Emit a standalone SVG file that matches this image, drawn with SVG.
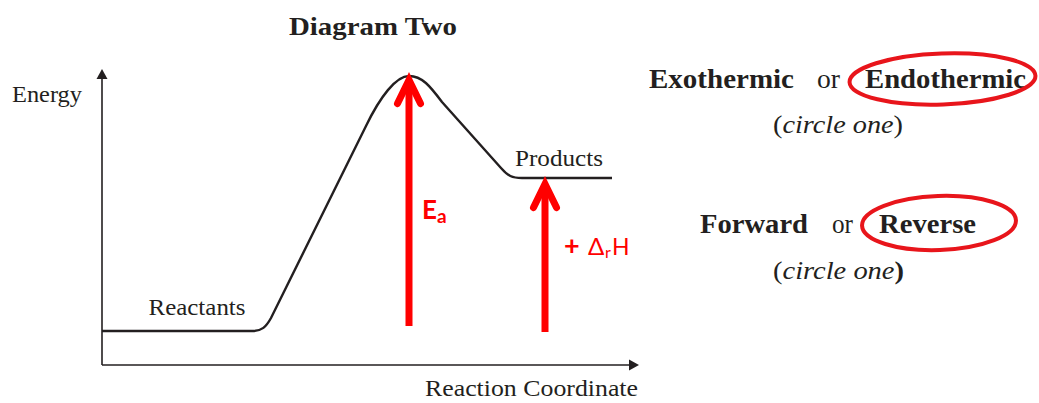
<svg xmlns="http://www.w3.org/2000/svg" width="1039" height="403" viewBox="0 0 1039 403">
<style>
.lbl{font-family:"Liberation Serif","Times New Roman",serif;fill:#231f20}
.b{font-weight:bold}
.it{font-style:italic}
.red{fill:#ff0000;font-family:Lato,"Open Sans","DejaVu Sans",sans-serif}
.arr{stroke:#ff0000;stroke-width:7;fill:none}
.ring{fill:none;stroke:#e8151b;stroke-width:4}
</style>
<rect width="1039" height="403" fill="#ffffff"/>
<g id="title"><text class="lbl b" x="289" y="35" font-size="25" textLength="168" lengthAdjust="spacingAndGlyphs">Diagram Two</text></g>
<g id="axes">
<line x1="102" y1="78" x2="102" y2="365" stroke="#231f20" stroke-width="1.6"/>
<polygon points="102,69 96.5,79 107.5,79" fill="#231f20"/>
<line x1="102" y1="365" x2="629" y2="365" stroke="#231f20" stroke-width="1.6"/>
<polygon points="639,365 629,359.5 629,370.5" fill="#231f20"/>
<text class="lbl" x="12" y="102" font-size="23" textLength="70" lengthAdjust="spacingAndGlyphs">Energy</text>
<text class="lbl" x="425" y="396" font-size="23" textLength="213" lengthAdjust="spacingAndGlyphs">Reaction Coordinate</text>
</g>
<g id="connectors">
<path d="M102,331 L252,331 C262,331 266,327 271,318 L366,126 C380,97 396,76 409,76 C422,76 430,86 442,102 L501,168 C508,176 512,178 522,178 L612,178" fill="none" stroke="#231f20" stroke-width="2.4"/>
</g>
<g id="reactants"><text class="lbl" x="148.5" y="315" font-size="23" textLength="97" lengthAdjust="spacingAndGlyphs">Reactants</text></g>
<g id="products"><text class="lbl" x="515" y="166" font-size="23" textLength="88" lengthAdjust="spacingAndGlyphs">Products</text></g>
<g id="ea-arrow">
<line class="arr" x1="409" y1="326" x2="409" y2="82"/>
<polyline class="arr" points="397.5,103.5 409,80 420.5,103.5" stroke-linecap="round" stroke-linejoin="miter"/>
<text class="red" x="422" y="219" font-size="26" font-weight="bold">E<tspan font-size="19" dy="4">a</tspan></text>
</g>
<g id="dh-arrow">
<line class="arr" x1="545" y1="332" x2="545" y2="186"/>
<polyline class="arr" points="533.5,207.5 545,184 556.5,207.5" stroke-linecap="round" stroke-linejoin="miter"/>
<text class="red" font-size="23"><tspan x="564" y="255" font-weight="bold" font-size="27">+</tspan><tspan x="588" y="255" font-size="24">Δ</tspan><tspan x="605" y="258" font-size="16">r</tspan><tspan x="612" y="255">H</tspan></text>
</g>
<g id="question1">
<text class="lbl b" x="649" y="88" font-size="27" textLength="145" lengthAdjust="spacingAndGlyphs">Exothermic</text>
<text class="lbl" x="817" y="88" font-size="27" textLength="23" lengthAdjust="spacingAndGlyphs">or</text>
<text class="lbl b" x="865" y="88" font-size="27" textLength="161" lengthAdjust="spacingAndGlyphs">Endothermic</text>
<ellipse class="ring" cx="942.5" cy="79" rx="93" ry="25.5" transform="rotate(-2 942.5 79)"/>
<text class="lbl" x="773" y="133" font-size="25" textLength="130" lengthAdjust="spacingAndGlyphs">(<tspan class="it">circle one</tspan>)</text>
</g>
<g id="question2">
<text class="lbl b" x="700" y="233" font-size="27" textLength="108" lengthAdjust="spacingAndGlyphs">Forward</text>
<text class="lbl" x="832" y="233" font-size="27" textLength="21" lengthAdjust="spacingAndGlyphs">or</text>
<text class="lbl b" x="879" y="233" font-size="27" textLength="97" lengthAdjust="spacingAndGlyphs">Reverse</text>
<ellipse class="ring" cx="939" cy="223" rx="77" ry="27" transform="rotate(-2 939 223)"/>
<text class="lbl" x="773" y="279" font-size="25" textLength="131" lengthAdjust="spacingAndGlyphs">(<tspan class="it">circle one</tspan><tspan class="b">)</tspan></text>
</g>
</svg>
